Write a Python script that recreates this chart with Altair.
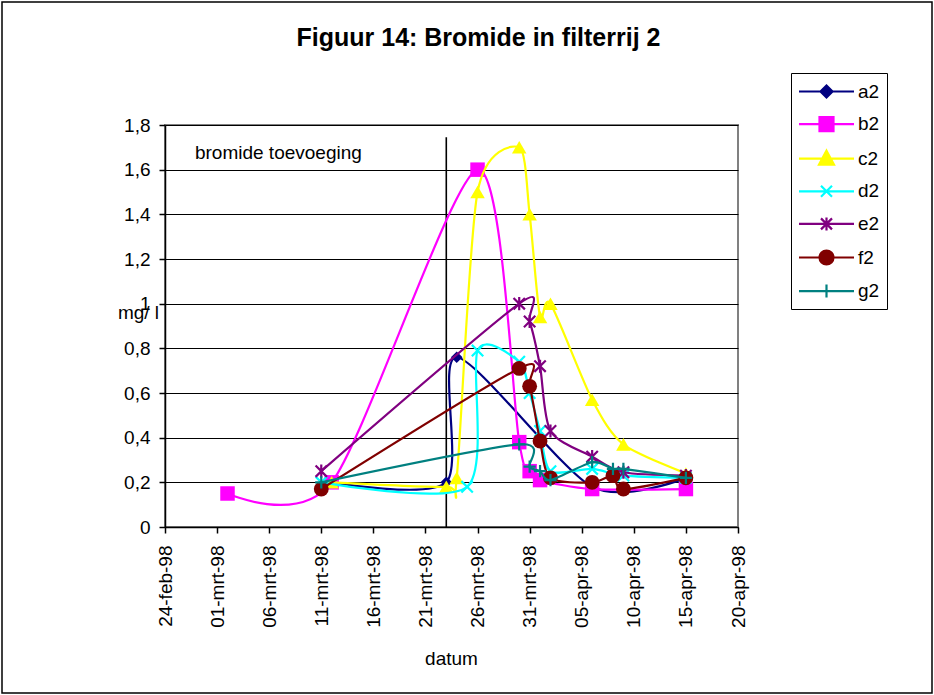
import altair as alt
import pandas as pd

FONT = "Liberation Sans"

# ---- series data: sampling dates and bromide concentration (mg/l) ----
series_names = ["a2", "b2", "c2", "d2", "e2", "f2", "g2"]
series_colors = ["#000080", "#FF00FF", "#FFFF00", "#00FFFF", "#800080", "#800000", "#008080"]

a2_dates = ["1998-03-12", "1998-03-23", "1998-03-24", "1998-04-06", "1998-04-15"]
a2_values = [0.20, 0.20, 0.76, 0.18, 0.22]

b2_dates = ["1998-03-02", "1998-03-12", "1998-03-26", "1998-03-30", "1998-03-31",
            "1998-04-01", "1998-04-06", "1998-04-15"]
b2_values = [0.15, 0.20, 1.60, 0.38, 0.25, 0.21, 0.17, 0.17]

c2_dates = ["1998-03-12", "1998-03-23", "1998-03-24", "1998-03-26", "1998-03-30",
            "1998-03-31", "1998-04-01", "1998-04-02", "1998-04-06", "1998-04-09", "1998-04-15"]
c2_values = [0.20, 0.18, 0.22, 1.50, 1.70, 1.40, 0.94, 1.00, 0.57, 0.37, 0.24]

d2_dates = ["1998-03-11", "1998-03-25", "1998-03-26", "1998-03-30", "1998-03-31",
            "1998-04-01", "1998-04-02", "1998-04-06", "1998-04-09", "1998-04-15"]
d2_values = [0.20, 0.18, 0.79, 0.74, 0.60, 0.43, 0.25, 0.26, 0.23, 0.22]

e2_dates = ["1998-03-11", "1998-03-30", "1998-03-31", "1998-04-01", "1998-04-02",
            "1998-04-06", "1998-04-09", "1998-04-15"]
e2_values = [0.25, 1.00, 0.92, 0.72, 0.43, 0.315, 0.245, 0.23]

f2_dates = ["1998-03-11", "1998-03-30", "1998-03-31", "1998-04-01", "1998-04-02",
            "1998-04-06", "1998-04-08", "1998-04-09", "1998-04-15"]
f2_values = [0.17, 0.71, 0.63, 0.385, 0.22, 0.20, 0.23, 0.17, 0.22]

g2_dates = ["1998-03-11", "1998-03-30", "1998-03-31", "1998-04-01", "1998-04-02",
            "1998-04-06", "1998-04-08", "1998-04-09", "1998-04-15"]
g2_values = [0.20, 0.37, 0.27, 0.25, 0.21, 0.29, 0.26, 0.26, 0.22]

series_dates = [a2_dates, b2_dates, c2_dates, d2_dates, e2_dates, f2_dates, g2_dates]
series_values = [a2_values, b2_values, c2_values, d2_values, e2_values, f2_values, g2_values]

# x-axis tick dates and y-axis ticks
tick_dates = [(1998, 2, 24), (1998, 3, 1), (1998, 3, 6), (1998, 3, 11), (1998, 3, 16),
              (1998, 3, 21), (1998, 3, 26), (1998, 3, 31), (1998, 4, 5), (1998, 4, 10),
              (1998, 4, 15), (1998, 4, 20)]
y_ticks = [0, 0.2, 0.4, 0.6, 0.8, 1.0, 1.2, 1.4, 1.6, 1.8]

# moment of bromide addition
dosing_date = "1998-03-23"
dosing_top = 1.745
dosing_label = "bromide toevoeging"
dosing_label_date = "1998-02-26T21:00:00Z"
dosing_label_value = 1.675

# ---- marker shapes on the plot (stroked ones are open paths) ----
X_PATH = "M-1,-1L1,1M-1,1L1,-1"
STAR_PATH = "M-1,-1L1,1M-1,1L1,-1M0,-1.15L0,1.15"
PLUS_PATH = "M-1,0L1,0M0,-1L0,1"
markers = [
    dict(shape="diamond", size=135, filled=True),
    dict(shape="square", size=210, filled=True),
    dict(shape="triangle-up", size=210, filled=True),
    dict(shape=X_PATH, size=130, filled=False),
    dict(shape=STAR_PATH, size=130, filled=False),
    dict(shape="circle", size=220, filled=True),
    dict(shape=PLUS_PATH, size=150, filled=False),
]

# legend symbols: a short line segment with the marker in the middle
legend_paths = [
    "M-2.75,0L2.75,0M0,-0.6L0.6,0L0,0.6L-0.6,0Z",
    "M-2.75,0L2.75,0M-0.7,-0.7L0.7,-0.7L0.7,0.7L-0.7,0.7Z",
    "M-2.75,0L2.75,0M0,-0.8L0.75,0.6L-0.75,0.6Z",
    "M-2.75,0L2.75,0M-0.55,-0.55L0.55,0.55M-0.55,0.55L0.55,-0.55",
    "M-2.75,0L2.75,0M-0.55,-0.55L0.55,0.55M-0.55,0.55L0.55,-0.55M0,-0.65L0,0.65",
    "M-2.75,0L2.75,0M-0.7,0A0.7,0.7,0,1,0,0.7,0A0.7,0.7,0,1,0,-0.7,0Z",
    "M-2.75,0L2.75,0M-0.65,0L0.65,0M0,-0.65L0,0.65",
]

PLOT_W, PLOT_H = 573, 402

x_scale = alt.Scale(
    type="utc",
    domain=[alt.DateTime(year=1998, month=2, date=24, utc=True),
            alt.DateTime(year=1998, month=4, date=20, utc=True)],
)
y_scale = alt.Scale(domain=[0, 1.8], nice=False)

x_axis = alt.Axis(
    values=[alt.DateTime(year=y, month=m, date=d, utc=True) for (y, m, d) in tick_dates],
    labelExpr="utcFormat(datum.value, '%d') + '-' + "
              "['jan','feb','mrt','apr','mei'][utcmonth(datum.value)] + '-98'",
    labelAngle=270,
    labelPadding=12,
    tickSize=6,
    grid=False,
    title="datum",
    titleX=286,
    titleY=131,
    titleBaseline="middle",
    titleAlign="center",
)
y_axis = alt.Axis(
    values=y_ticks,
    format=".1~f",
    labelExpr="replace(datum.label, '.', ',')",
    labelPadding=9,
    tickSize=6,
    grid=True,
    title="mg/ l",
    titleAngle=0,
    titleX=-27,
    titleY=187,
    titleAlign="center",
    titleBaseline="middle",
)

X = alt.X("datum:T", scale=x_scale, axis=x_axis)
Y = alt.Y("waarde:Q", scale=y_scale, axis=y_axis)

layers = []

# bromide dosing marker and its label
dosing_df = pd.DataFrame({"datum": [dosing_date], "waarde": [dosing_top], "nul": [0.0]})
layers.append(
    alt.Chart(dosing_df).mark_rule(color="black", strokeWidth=1.6).encode(
        x=X, y=Y, y2="nul:Q"
    )
)
label_df = pd.DataFrame({"datum": [dosing_label_date], "waarde": [dosing_label_value],
                         "tekst": [dosing_label]})
layers.append(
    alt.Chart(label_df).mark_text(align="left", baseline="middle", font=FONT,
                                  fontSize=19, color="black").encode(
        x=X, y=Y, text="tekst:N"
    )
)

# smoothed lines with markers, one series at a time
for name, color, dates, values, mk in zip(series_names, series_colors, series_dates,
                                          series_values, markers):
    df = pd.DataFrame({"datum": dates, "waarde": values, "reeks": name})
    layers.append(
        alt.Chart(df).mark_line(interpolate="cardinal", tension=0.2, color=color,
                                strokeWidth=2.2).encode(x=X, y=Y)
    )
    if mk["filled"]:
        pt = alt.Chart(df).mark_point(shape=mk["shape"], size=mk["size"], filled=True,
                                      color=color, opacity=1)
    else:
        pt = alt.Chart(df).mark_point(shape=mk["shape"], size=mk["size"], filled=False,
                                      color=color, strokeWidth=2.2, opacity=1)
    layers.append(pt.encode(x=X, y=Y))

# legend carrier: one invisible point per series, legend drawn with line+marker symbols
legend_df = pd.DataFrame({
    "datum": [d[0] for d in series_dates],
    "waarde": [v[0] for v in series_values],
    "reeks": series_names,
})
legend_props = dict(
    title=None,
    orient="none",
    legendX=626,
    legendY=-52,
    symbolSize=400,
    symbolStrokeWidth=2.2,
    symbolOpacity=1,
    symbolOffset=17,
    labelOffset=20,
    labelFont=FONT,
    labelFontSize=19,
    labelColor="black",
    padding=7,
    rowPadding=10.6,
    strokeColor="black",
    fillColor="white",
)
layers.append(
    alt.Chart(legend_df).mark_point(filled=True, opacity=0, size=1).encode(
        x=X,
        y=Y,
        fill=alt.Fill("reeks:N", scale=alt.Scale(domain=series_names, range=series_colors),
                      legend=alt.Legend(**legend_props)),
        stroke=alt.Stroke("reeks:N", scale=alt.Scale(domain=series_names, range=series_colors),
                          legend=alt.Legend(**legend_props)),
        shape=alt.Shape("reeks:N", scale=alt.Scale(domain=series_names, range=legend_paths),
                        legend=alt.Legend(**legend_props)),
    )
)

# border around the whole chart area
frame_df = pd.DataFrame({"k": [0]})
layers.append(
    alt.Chart(frame_df).mark_rect(fill=None, stroke="black", strokeWidth=1.5).encode(
        x=alt.value(-163), x2=alt.value(PLOT_W + 194),
        y=alt.value(-123), y2=alt.value(PLOT_H + 166),
    )
)

chart = alt.layer(*layers).properties(
    width=PLOT_W,
    height=PLOT_H,
    background="white",
    title=alt.TitleParams(
        "Figuur 14: Bromide in filterrij 2",
        font=FONT, fontSize=25, fontWeight="bold", color="black",
        anchor="middle", frame="group", dx=27, offset=-75, baseline="bottom",
    ),
    autosize=alt.AutoSizeParams(type="none"),
    padding={"left": 165, "top": 125, "right": 196, "bottom": 168},
).configure_view(
    stroke="#808080", strokeWidth=2
).configure_axis(
    labelFont=FONT, labelFontSize=19, labelColor="black",
    titleFont=FONT, titleFontSize=19, titleFontWeight="normal", titleColor="black",
    domainColor="black", domainWidth=1.5,
    tickColor="black", tickWidth=1.5,
    gridColor="black", gridWidth=1, gridOpacity=1,
)

chart.save("out.html", embed_options={"renderer": "svg", "actions": False})
